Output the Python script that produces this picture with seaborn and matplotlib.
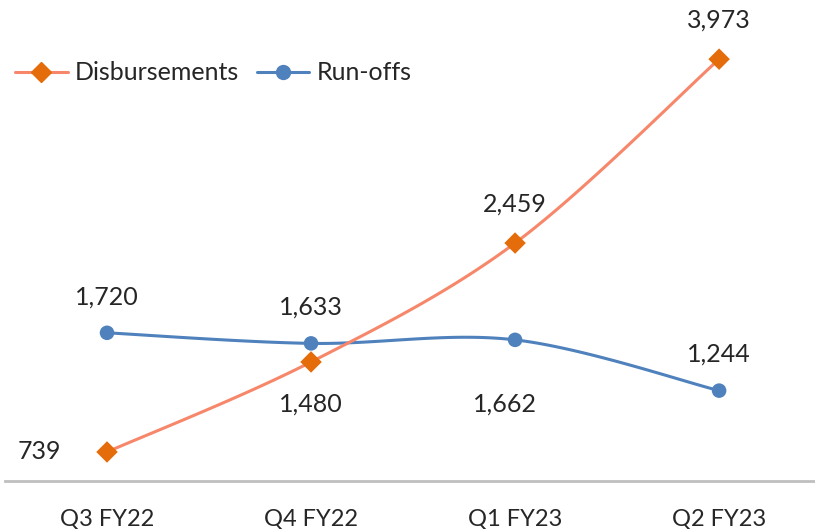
import numpy as np
import pandas as pd
import matplotlib
matplotlib.use("Agg")
import matplotlib.pyplot as plt
import seaborn as sns
from matplotlib.lines import Line2D

quarters = ["Q3 FY22", "Q4 FY22", "Q1 FY23", "Q2 FY23"]
disbursements = [739, 1480, 2459, 3973]
run_offs = [1720, 1633, 1662, 1244]

sns.set_style("white")
plt.rcParams["font.family"] = ["Lato", "DejaVu Sans"]


def smooth(xs, ys, n=40):
    # excel-like smoothed line (bezier through the points, catmull-rom controls)
    pts = np.column_stack([xs, ys]).astype(float)
    ext = np.vstack([pts[0], pts, pts[-1]])
    out = []
    for i in range(len(pts) - 1):
        p0, p1, p2, p3 = ext[i], ext[i + 1], ext[i + 2], ext[i + 3]
        c1 = p1 + (p2 - p0) / 6
        c2 = p2 - (p3 - p1) / 6
        t = np.linspace(0, 1, n)[:, None]
        seg = (1 - t) ** 3 * p1 + 3 * (1 - t) ** 2 * t * c1 + 3 * (1 - t) * t ** 2 * c2 + t ** 3 * p2
        out.append(seg if i == 0 else seg[1:])
    seg = np.vstack(out)
    return pd.DataFrame({"x": seg[:, 0], "y": seg[:, 1]})


line_orange = "#F7876A"
mark_orange = "#E46C0A"
blue = "#4F81BD"

fig = plt.figure(figsize=(8.15, 5.29), dpi=100)
ax = fig.add_axes([5 / 815, 48 / 529, 810 / 815, 481 / 529])

x = np.arange(len(quarters))
sns.lineplot(data=smooth(x, run_offs), x="x", y="y", ax=ax, color=blue, lw=2.2, sort=False)
sns.lineplot(data=smooth(x, disbursements), x="x", y="y", ax=ax, color=line_orange, lw=2.2, sort=False)
sns.scatterplot(x=x, y=run_offs, ax=ax, color=blue, marker="o", s=110, edgecolor="none", zorder=5)
sns.scatterplot(x=x, y=disbursements, ax=ax, color=mark_orange, marker="D", s=120, edgecolor="none", zorder=6)

fs = 18
# data labels
ax.annotate(f"{disbursements[0]:,}", (x[0], disbursements[0]), xytext=(-49, 0), textcoords="offset points",
            ha="center", va="center", fontsize=fs)
ax.annotate(f"{disbursements[1]:,}", (x[1], disbursements[1]), xytext=(0, -30), textcoords="offset points",
            ha="center", va="center", fontsize=fs)
for i in (2, 3):
    ax.annotate(f"{disbursements[i]:,}", (x[i], disbursements[i]), xytext=(0, 28), textcoords="offset points",
                ha="center", va="center", fontsize=fs)
for i in (0, 1, 3):
    ax.annotate(f"{run_offs[i]:,}", (x[i], run_offs[i]), xytext=(0, 26), textcoords="offset points",
                ha="center", va="center", fontsize=fs)
ax.annotate(f"{run_offs[2]:,}", (x[2], run_offs[2]), xytext=(-7, -46), textcoords="offset points",
            ha="center", va="center", fontsize=fs)

ax.set_xlim(-0.5, 3.47)
ax.set_ylim(500, 4460)
ax.set_xticks(x)
ax.set_xticklabels(quarters, fontsize=17)
ax.tick_params(axis="x", length=0, pad=20)
ax.set_yticks([])
ax.set_xlabel("")
ax.set_ylabel("")
for s in ["top", "left", "right"]:
    ax.spines[s].set_visible(False)
ax.spines["bottom"].set_color("#BFBFBF")
ax.spines["bottom"].set_linewidth(2)

handles = [
    Line2D([], [], color=line_orange, lw=2.2, marker="D", markersize=10, markerfacecolor=mark_orange,
           markeredgecolor=mark_orange),
    Line2D([], [], color=blue, lw=2.2, marker="o", markersize=10, markerfacecolor=blue, markeredgecolor=blue),
]
ax.legend(handles, ["Disbursements", "Run-offs"], loc="upper left", bbox_to_anchor=(0.0, 0.893),
          ncol=2, frameon=False, fontsize=fs, handlelength=2.1, handletextpad=0.3, columnspacing=0.7,
          borderaxespad=0.0)

fig.savefig("out.png", dpi=100)
